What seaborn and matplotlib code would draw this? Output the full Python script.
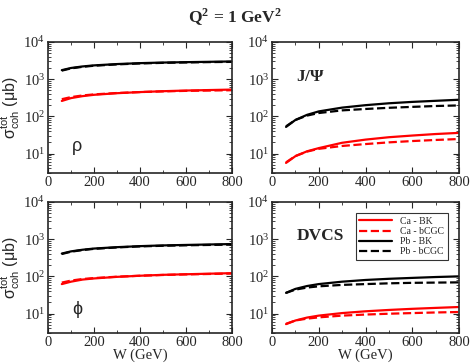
import numpy as np
import pandas as pd
import matplotlib
matplotlib.use("Agg")
import matplotlib.pyplot as plt
import seaborn as sns
from matplotlib.ticker import MultipleLocator, LogLocator, NullFormatter

sns.set_theme(style="ticks")
plt.rcParams['font.family'] = ['Liberation Serif', 'DejaVu Serif']
plt.rcParams['mathtext.fontset'] = 'stix'

# W grid (GeV)
W = [60, 100, 150, 200, 300, 400, 500, 600, 700, 800]

# rho
rho_pb_bk = [1750, 2000, 2200, 2350, 2550, 2700, 2800, 2870, 2930, 3000]
rho_pb_bcgc = [1700, 1950, 2150, 2300, 2500, 2650, 2750, 2820, 2880, 2920]
rho_ca_bk = [260, 310, 350, 380, 420, 450, 475, 495, 510, 525]
rho_ca_bcgc = [290, 330, 365, 390, 425, 450, 470, 485, 495, 505]

# J/Psi
jpsi_pb_bk = [52, 80, 110, 136, 172, 200, 225, 245, 262, 280]
jpsi_pb_bcgc = [54, 80, 105, 123, 145, 158, 170, 180, 190, 197]
jpsi_ca_bk = [5.6, 8.5, 11.5, 14, 19.5, 23.7, 27.5, 30.5, 33.5, 36]
jpsi_ca_bcgc = [5.8, 8.6, 11.3, 13.4, 16, 18, 20, 21.7, 23.2, 24.6]

# phi
phi_pb_bk = [410, 470, 520, 560, 610, 650, 680, 700, 720, 740]
phi_pb_bcgc = [400, 460, 510, 550, 600, 640, 665, 685, 700, 715]
phi_ca_bk = [62, 72, 82, 88, 97, 104, 110, 114, 118, 122]
phi_ca_bcgc = [68, 77, 85, 90, 98, 104, 109, 113, 116, 119]

# DVCS
dvcs_pb_bk = [36, 46, 55, 62, 72, 80, 86, 91, 96, 100]
dvcs_pb_bcgc = [36, 44, 50, 54, 59, 62, 65, 67, 68, 69]
dvcs_ca_bk = [5.2, 6.5, 7.8, 8.8, 10.3, 11.5, 12.5, 13.4, 14.2, 15]
dvcs_ca_bcgc = [5.3, 6.5, 7.3, 7.9, 8.8, 9.4, 9.9, 10.3, 10.7, 11]

labels = ['Ca - BK', 'Ca - bCGC', 'Pb - BK', 'Pb - bCGC']
colors = ['red', 'red', 'black', 'black']
styles = ['-', '--', '-', '--']

panels = [
    ('ρ', [rho_ca_bk, rho_ca_bcgc, rho_pb_bk, rho_pb_bcgc]),
    (r'J/$\mathregular{\Psi}$', [jpsi_ca_bk, jpsi_ca_bcgc, jpsi_pb_bk, jpsi_pb_bcgc]),
    ('ϕ', [phi_ca_bk, phi_ca_bcgc, phi_pb_bk, phi_pb_bcgc]),
    ('DVCS', [dvcs_ca_bk, dvcs_ca_bcgc, dvcs_pb_bk, dvcs_pb_bcgc]),
]

fig = plt.figure(figsize=(4.7, 3.63), dpi=100)
rects = [
    [48/470, 1-173/363, 184/470, 131/363],
    [272/470, 1-173/363, 187/470, 131/363],
    [48/470, 1-333/363, 184/470, 131/363],
    [272/470, 1-333/363, 187/470, 131/363],
]
label_pos = [(0.13, 0.2, 'normal'), (0.13, 0.73, 'bold'),
             (0.13, 0.18, 'normal'), (0.13, 0.74, 'bold')]

for i, (rect, (name, series)) in enumerate(zip(rects, panels)):
    ax = fig.add_axes(rect)
    for vals, lab, c, ls in zip(series, labels, colors, styles):
        sns.lineplot(x=W, y=vals, ax=ax, color=c, linestyle=ls,
                     linewidth=1.6, label=lab, legend=False)
    ax.set_yscale('log')
    ax.set_xlim(0, 800)
    ax.set_ylim(3, 1e4)
    ax.xaxis.set_major_locator(MultipleLocator(200))
    ax.xaxis.set_minor_locator(MultipleLocator(100))
    ax.yaxis.set_major_locator(LogLocator(base=10, numticks=10))
    ax.yaxis.set_minor_locator(LogLocator(base=10, subs=np.arange(2, 10), numticks=10))
    ax.yaxis.set_minor_formatter(NullFormatter())
    ax.tick_params(which='both', direction='in', top=True, right=True,
                   labelsize=10.5, pad=2)
    ax.tick_params(which='major', length=4, width=0.8)
    ax.tick_params(which='minor', length=2, width=0.6)
    for s in ax.spines.values():
        s.set_linewidth(1.2)
    lx, ly, fw = label_pos[i]
    if i % 2 == 0:
        ax.text(lx, ly, name, transform=ax.transAxes, fontsize=13,
                family=['Liberation Sans', 'DejaVu Sans'], ha='left', va='center')
        ax.set_ylabel(r'$\mathregular{\sigma^{tot}_{coh}}$ (μb)',
                      family=['Liberation Sans', 'DejaVu Sans'], fontsize=11.5, labelpad=1)
    else:
        ax.text(lx, ly, name, transform=ax.transAxes, fontsize=12.5,
                fontweight=fw, ha='left', va='center')
        ax.set_ylabel('')
    if i >= 2:
        ax.set_xlabel('W (GeV)', fontsize=10.5, labelpad=0)
    else:
        ax.set_xlabel('')
    if i == 3:
        leg = ax.legend(loc='upper right', fontsize=7, frameon=True, fancybox=False,
                        edgecolor='black', handlelength=3.4, borderpad=0.35,
                        labelspacing=0.12, bbox_to_anchor=(0.965, 0.95))
        leg.get_frame().set_linewidth(0.8)

fig.text(0.5, 0.953, r'Q$^\mathregular{2}$ = 1 GeV$^\mathregular{2}$', ha='center', va='center',
         fontsize=12.5, fontweight='bold')

fig.savefig('out.png', dpi=100)
